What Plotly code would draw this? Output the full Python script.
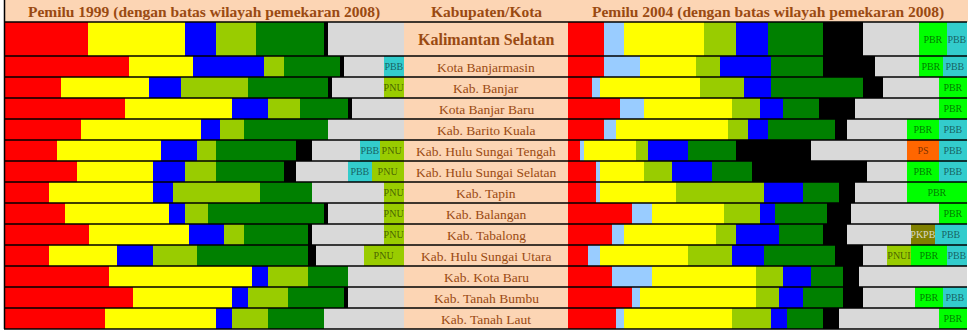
import plotly.graph_objects as go

# ---- data -------------------------------------------------------------
wilayah = [
    "Kalimantan Selatan", "Kota Banjarmasin", "Kab. Banjar", "Kota Banjar Baru",
    "Kab. Barito Kuala", "Kab. Hulu Sungai Tengah", "Kab. Hulu Sungai Selatan",
    "Kab. Tapin", "Kab. Balangan", "Kab. Tabalong", "Kab. Hulu Sungai Utara",
    "Kab. Kota Baru", "Kab. Tanah Bumbu", "Kab. Tanah Laut",
]

# Pemilu 1999, vote share (%)
p99_pdip    = [20.9, 31, 14, 30, 19, 13, 18, 11, 15, 21, 11, 26, 32, 25]
p99_golkar  = [24.1, 16, 22, 27, 30, 26, 19, 26, 26, 25, 17, 36, 25, 28]
p99_pan     = [8, 18, 8, 9, 5, 9, 8, 5, 4, 9, 9, 4, 4, 4]
p99_pkb     = [10, 5, 17, 8, 6, 5, 8, 22, 6, 5, 11, 10, 10, 9]
p99_ppp     = [17, 14, 20, 12, 21, 20, 17, 13, 29, 16, 28, 10, 14, 14]
p99_pk      = [1, 1, 1, 1, 0, 4, 3, 0, 1, 1, 2, 0, 1, 0]
p99_lain    = [19, 10, 13, 13, 19, 12, 13, 18, 14, 18, 12, 14, 14, 20]
p99_pbb     = [0, 5, 0, 0, 0, 5, 6, 0, 0, 0, 0, 0, 0, 0]
p99_pnu     = [0, 0, 5, 0, 0, 6, 8, 5, 5, 5, 10, 0, 0, 0]

# Pemilu 2004, vote share (%)
p04_pdip    = [9, 9, 6, 13, 9, 3, 7, 7, 16, 11, 5, 11, 16, 12]
p04_pd      = [5, 9, 2, 6, 3, 1, 1, 1, 5, 3, 3, 10, 2, 2]
p04_golkar  = [20, 14, 25, 22, 28, 13, 11, 19, 18, 23, 22, 26, 29, 27]
p04_pkb     = [8, 6, 11, 7, 5, 3, 7, 22, 9, 5, 11, 7, 6, 10]
p04_pan     = [8, 13, 7, 6, 5, 10, 10, 10, 4, 11, 8, 7, 6, 4]
p04_ppp     = [14, 13, 23, 9, 17, 12, 10, 9, 13, 11, 18, 8, 10, 9]
p04_pks     = [10, 13, 5, 9, 3, 19, 29, 4, 6, 6, 7, 4, 5, 4]
p04_lain    = [14, 11, 14, 21, 15, 24, 10, 13, 22, 16, 6, 27, 13, 25]
p04_ps      = [0, 0, 0, 0, 0, 8, 0, 0, 0, 0, 0, 0, 0, 0]
p04_pkpb    = [0, 0, 0, 0, 0, 0, 0, 0, 0, 6, 0, 0, 0, 0]
p04_pnui    = [0, 0, 0, 0, 0, 0, 0, 0, 0, 0, 6, 0, 0, 0]
p04_pbr     = [7, 6, 7, 7, 8, 0, 8, 15, 7, 0, 9, 0, 7, 7]
p04_pbb     = [5, 6, 0, 0, 7, 7, 7, 0, 0, 8, 5, 0, 6, 0]

# ---- layout geometry (pixels) ----------------------------------------
W, H = 972, 331
HEAD = 22          # header band height
ROW0 = 34          # provincial row is taller
ROW = 21           # regency rows
LEFT0, LEFT1 = 4, 404
MID1 = 568
RIGHT1 = 967

tops = [HEAD]
heights = [ROW0] + [ROW] * (len(wilayah) - 1)
for h in heights[:-1]:
    tops.append(tops[-1] + h)
centers = [t + h / 2 for t, h in zip(tops, heights)]
bottom = tops[-1] + heights[-1]

BROWN = "#9A4A12"
SERIF = "Liberation Serif"
LBL = "rgba(0,0,0,0.55)"

fig = go.Figure()


def add_series(values, name, color, xaxis, label=None, label_color=LBL):
    text = [label if (label and v > 0) else "" for v in values]
    fig.add_trace(go.Bar(
        y=centers, x=values, width=heights, orientation="h", name=name,
        marker=dict(color=color, line=dict(width=0)),
        xaxis=xaxis, yaxis="y",
        text=text, textposition="inside", insidetextanchor="middle",
        textangle=0, textfont=dict(family=SERIF, size=10, color=label_color),
        showlegend=False,
        hovertemplate="%{x}%<extra>" + name + "</extra>",
    ))


# 1999 panel
add_series(p99_pdip, "PDI-P", "#FF0000", "x")
add_series(p99_golkar, "Golkar", "#FFFF00", "x")
add_series(p99_pan, "PAN", "#0000FF", "x")
add_series(p99_pkb, "PKB", "#99CC00", "x")
add_series(p99_ppp, "PPP", "#008000", "x")
add_series(p99_pk, "PK", "#000000", "x")
add_series(p99_lain, "Lainnya", "#D9D9D9", "x")
add_series(p99_pbb, "PBB", "#33CCCC", "x", "PBB")
add_series(p99_pnu, "PNU", "#99CC00", "x", "PNU")

# 2004 panel
add_series(p04_pdip, "PDI-P", "#FF0000", "x2")
add_series(p04_pd, "Demokrat", "#99CCFF", "x2")
add_series(p04_golkar, "Golkar", "#FFFF00", "x2")
add_series(p04_pkb, "PKB", "#99CC00", "x2")
add_series(p04_pan, "PAN", "#0000FF", "x2")
add_series(p04_ppp, "PPP", "#008000", "x2")
add_series(p04_pks, "PKS", "#000000", "x2")
add_series(p04_lain, "Lainnya", "#D9D9D9", "x2")
add_series(p04_ps, "PS", "#FF6600", "x2", "PS")
add_series(p04_pkpb, "PKPB", "#808000", "x2", "PKPB", "#D8D8C8")
add_series(p04_pnui, "PNUI", "#99CC00", "x2", "PNUI")
add_series(p04_pbr, "PBR", "#00FF00", "x2", "PBR")
add_series(p04_pbb, "PBB", "#33CCCC", "x2", "PBB")

# ---- table background, grid lines, texts -----------------------------
PEACH = "#FCD5B4"
shapes = [
    dict(type="rect", xref="paper", yref="y", layer="below",
         x0=LEFT0 / W, x1=(RIGHT1 + 1) / W, y0=0, y1=HEAD,
         fillcolor=PEACH, line=dict(width=0)),
    dict(type="rect", xref="paper", yref="y", layer="below",
         x0=LEFT1 / W, x1=MID1 / W, y0=HEAD, y1=bottom,
         fillcolor=PEACH, line=dict(width=0)),
    dict(type="line", xref="paper", yref="y", layer="above",
         x0=(LEFT0 + 0.5) / W, x1=(LEFT0 + 0.5) / W, y0=0, y1=bottom,
         line=dict(color="black", width=1.5)),
]
for yb in [HEAD] + [t + h for t, h in zip(tops, heights)]:
    shapes.append(dict(type="line", xref="paper", yref="y", layer="above",
                       x0=LEFT0 / W, x1=RIGHT1 / W, y0=yb, y1=yb,
                       line=dict(color="black", width=1.5)))

annotations = [
    dict(text="<b>Pemilu 1999 (dengan batas wilayah pemekaran 2008)</b>",
         x=(LEFT0 + LEFT1) / 2 / W, y=HEAD / 2 + 0.5),
    dict(text="<b>Kabupaten/Kota</b>", x=(LEFT1 + MID1) / 2 / W, y=HEAD / 2 + 0.5),
    dict(text="<b>Pemilu 2004 (dengan batas wilayah pemekaran 2008)</b>",
         x=(MID1 + RIGHT1) / 2 / W, y=HEAD / 2 + 0.5),
]
for a in annotations:
    a.update(xref="paper", yref="y", showarrow=False, xanchor="center",
             yanchor="middle", font=dict(family=SERIF, size=15.5, color=BROWN))

for i, (name, yc) in enumerate(zip(wilayah, centers)):
    big = i == 0
    annotations.append(dict(
        text=f"<b>{name}</b>" if big else name,
        x=(LEFT1 + MID1) / 2 / W, y=yc + 0.5, xref="paper", yref="y",
        showarrow=False, xanchor="center", yanchor="middle",
        font=dict(family=SERIF, size=16 if big else 13.5, color=BROWN),
    ))

axis_off = dict(showgrid=False, zeroline=False, showticklabels=False,
                ticks="", showline=False, fixedrange=True)
fig.update_layout(
    width=W, height=H, margin=dict(l=0, r=0, t=0, b=0),
    paper_bgcolor="white", plot_bgcolor="rgba(0,0,0,0)",
    barmode="stack", bargap=0,
    uniformtext=dict(minsize=10, mode="show"),
    xaxis=dict(domain=[(LEFT0 + 1) / W, LEFT1 / W], range=[0, 100], **axis_off),
    xaxis2=dict(domain=[MID1 / W, RIGHT1 / W], range=[0, 100], anchor="y", **axis_off),
    yaxis=dict(domain=[0, 1], range=[H, 0], **axis_off),
    shapes=shapes, annotations=annotations,
)

fig.write_html("out.html")
